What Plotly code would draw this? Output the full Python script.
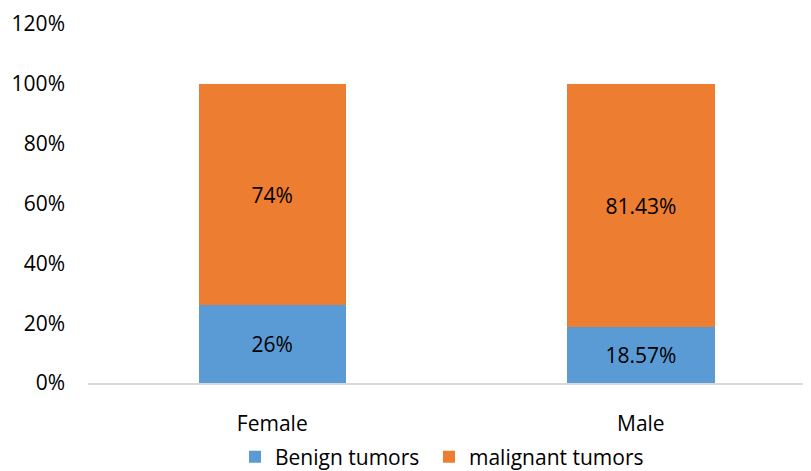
import plotly.graph_objects as go

categories = ["Female", "Male"]
benign = [26, 18.57]
malignant = [74, 81.43]
ytick_vals = [0, 20, 40, 60, 80, 100, 120]
ytick_text = ["0%", "20%", "40%", "60%", "80%", "100%", "120%"]

FONT = "'Open Sans', Calibri, Lato, sans-serif"
FS = 21

fig = go.Figure()
fig.add_trace(go.Bar(
    x=categories, y=benign, name="Benign tumors", legend="legend",
    marker=dict(color="#5B9BD5", line=dict(width=0)),
    texttemplate="%{y}%", textposition="inside", insidetextanchor="middle",
    textfont=dict(color="black", size=FS, family=FONT), width=0.4,
))
fig.add_trace(go.Bar(
    x=categories, y=malignant, name="malignant tumors", legend="legend2",
    marker=dict(color="#ED7D31", line=dict(width=0)),
    texttemplate="%{y}%", textposition="inside", insidetextanchor="middle",
    textfont=dict(color="black", size=FS, family=FONT), width=0.4,
))

leg_common = dict(orientation="h", xref="container", xanchor="left",
                  yref="container", y=22 / 471, yanchor="middle",
                  font=dict(size=FS, color="black"), itemwidth=30,
                  bgcolor="rgba(0,0,0,0)")

fig.update_layout(
    barmode="stack",
    width=811, height=471,
    margin=dict(l=80, r=9, t=16, b=96, autoexpand=False),
    paper_bgcolor="white", plot_bgcolor="white",
    font=dict(family=FONT, size=FS, color="#000000"),
    legend=dict(x=227 / 811, **leg_common),
    legend2=dict(x=421 / 811, **leg_common),
    showlegend=True,
)
fig.update_xaxes(
    range=[-0.5, 1.459], showgrid=False, zeroline=False, automargin=False,
    showline=True, linecolor="#d9d9d9", linewidth=1.5,
    ticks="", ticklabelstandoff=21, tickfont=dict(size=FS, color="black"),
)
fig.update_yaxes(
    range=[0, 120], tickvals=ytick_vals, ticktext=ytick_text, automargin=False,
    showgrid=False, zeroline=False, showline=False, ticks="",
    ticklabelstandoff=22, tickfont=dict(size=FS, color="black"),
)

fig.write_html("out.html")
